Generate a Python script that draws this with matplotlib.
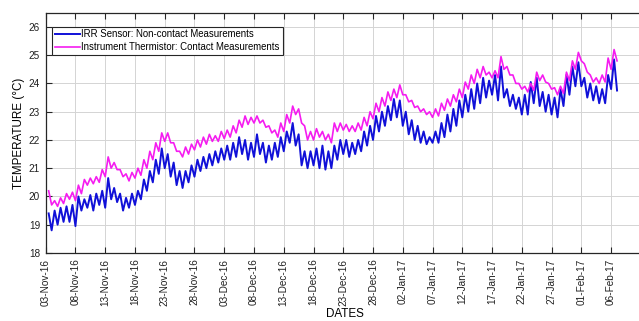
import matplotlib
matplotlib.use("Agg")
import matplotlib.pyplot as plt
import matplotlib.dates as mdates
import numpy as np

# daily peak / trough readings, first day = 03-Nov-2016
irr_hi = [19.4, 19.5, 19.6, 19.65, 19.7, 20.0, 19.9, 20.05, 20.1, 20.2,
          20.65, 20.3, 20.1, 19.95, 20.1, 20.2, 20.6, 20.9, 21.3, 21.7,
          21.5, 21.2, 20.9, 20.9, 21.1, 21.3, 21.4, 21.5, 21.6, 21.7,
          21.8, 21.9, 22.1, 22.0, 21.9, 22.2, 21.9, 21.8, 21.9, 22.1,
          22.3, 22.6, 22.2, 21.6, 21.6, 21.7, 21.8, 21.6, 21.8, 22.0,
          22.0, 21.9, 22.0, 22.3, 22.5, 22.85, 23.0, 23.2, 23.45, 23.4,
          23.0, 22.7, 22.5, 22.3, 22.1, 22.3, 22.6, 22.9, 23.1, 23.4,
          23.6, 23.8, 24.0, 24.2, 24.1, 24.3, 24.6, 23.8, 23.6, 23.5,
          23.6, 24.05, 24.2, 23.7, 23.6, 23.5, 23.8, 24.3, 24.6, 24.75,
          24.2, 24.0, 23.9, 23.8, 24.3, 24.85]
irr_lo = [18.8, 19.0, 19.1, 19.1, 18.95, 19.5, 19.6, 19.5, 19.7, 19.6,
          19.9, 19.8, 19.5, 19.6, 19.7, 19.9, 20.2, 20.5, 20.8, 21.0,
          20.7, 20.4, 20.3, 20.5, 20.7, 20.9, 21.0, 21.1, 21.2, 21.3,
          21.3, 21.4, 21.5, 21.3, 21.4, 21.5, 21.2, 21.3, 21.4, 21.6,
          21.9, 21.8, 21.1, 21.0, 21.1, 21.0, 20.95, 21.0, 21.3, 21.5,
          21.4, 21.5, 21.6, 21.8, 22.0, 22.3, 22.5, 22.7, 22.8, 22.5,
          22.2, 22.0, 21.9, 21.85, 21.9, 21.9, 22.1, 22.3, 22.5, 22.8,
          23.0, 23.1, 23.3, 23.5, 23.6, 23.4, 23.5, 23.2, 23.1, 22.9,
          22.9, 23.3, 23.2, 23.0, 22.9, 22.8, 23.2, 23.6, 23.9, 23.9,
          23.5, 23.4, 23.3, 23.3, 23.8, 23.75]

therm_hi = [20.2, 19.85, 19.95, 20.1, 20.15, 20.4, 20.6, 20.65, 20.7, 20.95,
            21.4, 21.2, 20.95, 20.8, 20.85, 21.0, 21.3, 21.6, 21.9, 22.25,
            22.25, 21.9, 21.6, 21.75, 21.85, 22.0, 22.1, 22.2, 22.15, 22.3,
            22.35, 22.5, 22.7, 22.85, 22.8, 22.85, 22.7, 22.5, 22.35, 22.6,
            22.9, 23.2, 23.1, 22.5, 22.3, 22.4, 22.3, 22.2, 22.6, 22.6,
            22.55, 22.5, 22.6, 22.8, 23.0, 23.3, 23.5, 23.7, 23.8, 23.95,
            23.6, 23.4, 23.2, 23.1, 23.0, 23.1, 23.3, 23.45, 23.6, 23.8,
            24.05, 24.3, 24.5, 24.6, 24.4, 24.45, 24.95, 24.6, 24.3, 24.0,
            23.9, 24.0, 24.4, 24.3, 24.0, 23.85, 23.9, 24.4, 24.8, 25.1,
            24.7, 24.3, 24.2, 24.3, 24.9, 25.2]
therm_lo = [19.7, 19.65, 19.75, 19.9, 19.85, 20.1, 20.4, 20.45, 20.5, 20.7,
            21.0, 20.95, 20.7, 20.55, 20.65, 20.75, 21.0, 21.3, 21.6, 21.95,
            21.9, 21.6, 21.4, 21.5, 21.65, 21.75, 21.85, 21.95, 21.95, 22.05,
            22.1, 22.25, 22.45, 22.55, 22.6, 22.6, 22.45, 22.25, 22.1, 22.3,
            22.6, 22.9, 22.6, 22.0, 22.0, 22.1, 22.0, 21.9, 22.3, 22.35,
            22.3, 22.3, 22.35, 22.5, 22.75, 23.0, 23.2, 23.4, 23.5, 23.6,
            23.35, 23.15, 23.0, 22.9, 22.8, 22.85, 23.05, 23.2, 23.35, 23.5,
            23.8, 24.0, 24.2, 24.3, 24.2, 24.2, 24.5, 24.3, 24.0, 23.8,
            23.7, 23.75, 24.1, 24.05, 23.8, 23.6, 23.65, 24.1, 24.5, 24.8,
            24.4, 24.05, 24.0, 24.05, 24.5, 24.8]

start = np.datetime64("2016-11-03T00:00")
tick_dates = np.arange(np.datetime64("2016-11-03"), np.datetime64("2017-02-07"),
                       np.timedelta64(5, "D"))

# peaks around midday, troughs around midnight
n = len(irr_hi)
t = start + np.timedelta64(12, "h") * np.arange(1, 2 * n + 1)
irr = np.empty(2 * n)
irr[0::2], irr[1::2] = irr_hi, irr_lo
therm = np.empty(2 * n)
therm[0::2], therm[1::2] = therm_hi, therm_lo

plt.rcParams["font.family"] = ["Liberation Sans", "DejaVu Sans"]

fig = plt.figure(figsize=(6.39, 3.21), dpi=100)
ax = fig.add_axes([0.0715, 0.212, 0.938, 0.748])

ax.plot(t, irr, color="#1010d8", lw=1.4, label="IRR Sensor: Non-contact Measurements")
ax.plot(t, therm, color="#f51cf0", lw=1.2, label="Instrument Thermistor: Contact Measurements")

ax.set_xlim(np.datetime64("2016-11-03"), np.datetime64("2017-02-11T17:00"))
ax.set_ylim(18, 26.5)
ax.set_yticks(np.arange(18, 27, 1))
ax.set_xticks(tick_dates)
ax.xaxis.set_major_formatter(mdates.DateFormatter("%d-%b-%y"))
ax.tick_params(axis="x", labelrotation=90)
ax.tick_params(direction="in", length=4, width=0.8, color="#262626",
               labelsize=7.2, labelcolor="#202020", top=True, right=True, pad=4)
ax.grid(True, color="#d4d4d4", lw=0.7)
ax.set_axisbelow(True)
for s in ax.spines.values():
    s.set_color("#262626")
    s.set_linewidth(0.9)

ax.set_xlabel("DATES", fontsize=8.4, labelpad=2)
ax.set_ylabel("TEMPERATURE (°C)", fontsize=8.4, labelpad=3)

leg = ax.legend(loc="upper left", bbox_to_anchor=(0.0105, 0.942), borderaxespad=0,
                fontsize=6.9, handlelength=2.6, handletextpad=0.2, labelspacing=0.3,
                borderpad=0.28, fancybox=False, framealpha=1)
leg.get_frame().set_edgecolor("#262626")
leg.get_frame().set_linewidth(0.8)

fig.savefig("out.png", dpi=100)
